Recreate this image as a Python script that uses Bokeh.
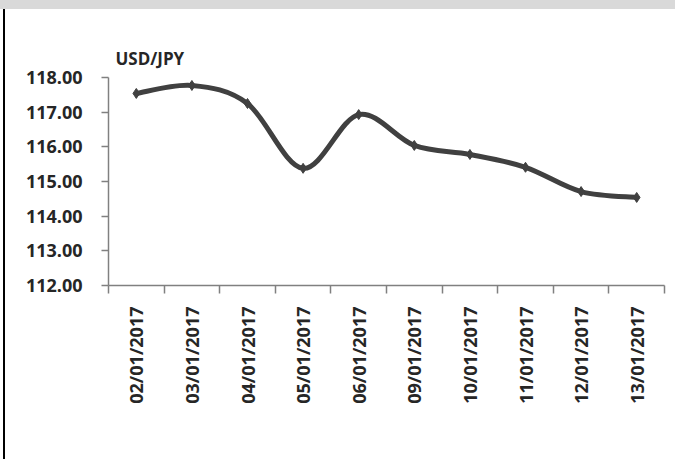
import numpy as np
from bokeh.plotting import figure
from bokeh.models import Range1d, FixedTicker, ColumnDataSource, NumeralTickFormatter
from bokeh.embed import file_html
from bokeh.resources import INLINE

# ---- data ----
dates = ["02/01/2017", "03/01/2017", "04/01/2017", "05/01/2017", "06/01/2017",
         "09/01/2017", "10/01/2017", "11/01/2017", "12/01/2017", "13/01/2017"]
usdjpy = [117.54, 117.77, 117.25, 115.38, 116.93, 116.04, 115.78, 115.41, 114.71, 114.54]
y_ticks = [112, 113, 114, 115, 116, 117, 118]
series_name = "USD/JPY"

FONT = "Open Sans"
TXT = "#262626"
LINE = "#404040"
AX = "#808080"

n = len(dates)
xc = np.arange(n) + 0.5
yv = np.array(usdjpy, dtype=float)

# smoothed line (Catmull-Rom style bezier through the data points)
xp = np.concatenate([[xc[0]], xc, [xc[-1]]])
yp = np.concatenate([[yv[0]], yv, [yv[-1]]])
i = np.arange(n - 1)
seg = ColumnDataSource(dict(
    x0=xp[i + 1], y0=yp[i + 1], x1=xp[i + 2], y1=yp[i + 2],
    cx0=xp[i + 1] + (xp[i + 2] - xp[i]) / 6.0,
    cy0=yp[i + 1] + (yp[i + 2] - yp[i]) / 6.0,
    cx1=xp[i + 2] - (xp[i + 3] - xp[i + 1]) / 6.0,
    cy1=yp[i + 2] - (yp[i + 3] - yp[i + 1]) / 6.0,
))

# page decoration of the original: grey strip on top, black rule on the left
frame_css = """
:host::before { content: ""; position: fixed; left: 0; top: 0; z-index: 10;
                width: 675px; height: 9px; background: #d9d9d9; }
:host::after  { content: ""; position: fixed; left: 3px; top: 9px; z-index: 10;
                width: 2px; height: 450px; background: #000000; }
"""

# canvas at page (0, 0); frame at page x 108..664, y 77..285
p = figure(width=675, height=459, output_backend="svg", toolbar_location=None,
           x_range=Range1d(0, n), y_range=Range1d(min(y_ticks), max(y_ticks)),
           min_border_left=108, min_border_right=11, min_border_top=77,
           min_border_bottom=174, stylesheets=[frame_css])
p.outline_line_color = None
p.grid.grid_line_color = None
p.background_fill_color = "white"
p.border_fill_color = "white"

p.bezier(x0="x0", y0="y0", x1="x1", y1="y1", cx0="cx0", cy0="cy0",
         cx1="cx1", cy1="cy1", source=seg, line_color=LINE, line_width=5)
p.scatter(xc, yv, marker="diamond", size=10, fill_color=LINE, line_color=LINE)

# title
p.title.text = series_name
p.title.align = "left"
p.title.offset = 7
p.title.standoff = 15
p.title.text_font = FONT
p.title.text_font_style = "bold"
p.title.text_font_size = "17px"
p.title.text_color = TXT

# y axis
ya = p.yaxis[0]
ya.ticker = FixedTicker(ticks=y_ticks)
ya.formatter = NumeralTickFormatter(format="0.00")
ya.axis_line_color = AX
ya.axis_line_width = 1.5
ya.major_tick_line_color = AX
ya.major_tick_line_width = 1.5
ya.major_tick_out = 7
ya.major_tick_in = 0
ya.minor_tick_line_color = None
ya.major_label_standoff = 19
ya.major_label_text_font = FONT
ya.major_label_text_font_style = "bold"
ya.major_label_text_font_size = "18px"
ya.major_label_text_color = TXT

# x axis: labels at centres, tick marks at category boundaries
xa = p.xaxis[0]
xa.ticker = FixedTicker(ticks=list(xc), minor_ticks=list(range(n + 1)))
xa.major_label_overrides = {float(v): d for v, d in zip(xc, dates)}
xa.major_label_orientation = np.pi / 2
xa.axis_line_color = AX
xa.axis_line_width = 1.5
xa.major_tick_line_color = None
xa.major_tick_out = 0
xa.major_tick_in = 0
xa.minor_tick_line_color = AX
xa.minor_tick_line_width = 1.5
xa.minor_tick_out = 8
xa.minor_tick_in = 0
xa.major_label_standoff = 13
xa.major_label_text_font = FONT
xa.major_label_text_font_style = "bold"
xa.major_label_text_font_size = "18px"
xa.major_label_text_color = TXT

open("out.html", "w").write(file_html(p, INLINE))
